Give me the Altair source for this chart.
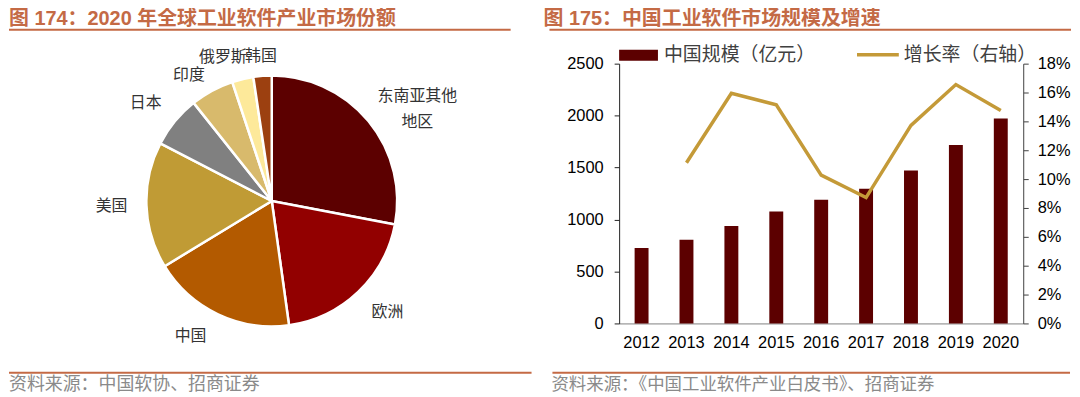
import altair as alt
import pandas as pd

# ---------------- data ----------------
regions = ["东南亚其他地区", "欧洲", "中国", "美国", "日本", "印度", "俄罗斯", "韩国"]
region_labels = ["东南亚其他\n地区", "欧洲", "中国", "美国", "日本", "印度", "俄罗斯", "韩国"]
shares = [28.0, 19.8, 18.5, 16.3, 6.7, 5.6, 2.75, 2.35]
pie_colors = ["#5C0000", "#920000", "#B35A00", "#C09B35", "#808080", "#D8BA6C", "#FDE99A", "#9C4010"]

years = ["2012", "2013", "2014", "2015", "2016", "2017", "2018", "2019", "2020"]
market_size = [726, 806, 938, 1078, 1190, 1296, 1472, 1718, 1971]
growth_rate = [None, 0.1113, 0.1595, 0.1515, 0.1028, 0.0872, 0.1372, 0.1655, 0.1476]

left_title = "图 174：2020 年全球工业软件产业市场份额"
right_title = "图 175：中国工业软件市场规模及增速"
left_source = "资料来源：中国软协、招商证券"
right_source = "资料来源：《中国工业软件产业白皮书》、招商证券"
legend_bar = "中国规模（亿元）"
legend_line = "增长率（右轴）"

# label nudges (style only)
label_nudge = {
    "东南亚其他地区": (23, -3), "欧洲": (6, -4), "中国": (-13, -9), "美国": (-1, 0),
    "日本": (-3, 3), "印度": (-7, 14), "俄罗斯": (-12, 11), "韩国": (1, 14),
}

TITLE_COLOR = "#C46A45"
CJK = "Noto Sans CJK SC"
MIX = "Liberation Sans, Noto Sans CJK SC"

# ---------------- pie panel ----------------
pie_df = pd.DataFrame({"region": regions, "label": region_labels, "share": shares,
                       "idx": list(range(len(regions)))})
pie_df["mid"] = pie_df["share"].cumsum() - pie_df["share"] / 2

CX, CY = 264, 138
theta_scale = alt.Scale(domain=[0, 100])

arcs = alt.Chart(pie_df).mark_arc(outerRadius=126, stroke="white", strokeWidth=2.5).encode(
    theta=alt.Theta("share:Q", stack=True, scale=theta_scale),
    color=alt.Color("region:N", scale=alt.Scale(domain=regions, range=pie_colors), legend=None),
    order=alt.Order("idx:Q"),
    x=alt.value(CX), y=alt.value(CY),
)

label_layers = []
for r in regions:
    dx, dy = label_nudge[r]
    label_layers.append(
        alt.Chart(pie_df).transform_filter(alt.datum.region == r).mark_text(
            radius=160, dx=dx, dy=dy, font=CJK, fontSize=16, color="#333333",
            lineBreak="\n", lineHeight=26, align="center", baseline="middle",
        ).encode(
            theta=alt.Theta("mid:Q", stack=None, scale=theta_scale),
            text="label:N",
            x=alt.value(CX), y=alt.value(CY),
        )
    )


def text_layer(txt, x, y, **kw):
    return alt.Chart(pd.DataFrame({"t": [txt]})).mark_text(
        align="left", baseline="middle", **kw
    ).encode(text="t:N", x=alt.value(x), y=alt.value(y))


def rule_layer(x1, x2, y, color, width):
    return alt.Chart(pd.DataFrame({"t": [0]})).mark_rule(color=color, strokeWidth=width).encode(
        x=alt.value(x1), x2=alt.value(x2), y=alt.value(y)
    )


left_deco = [
    text_layer(left_title, 0, -45, font=MIX, fontSize=20, fontWeight="bold", color=TITLE_COLOR),
    rule_layer(0, 504, -34, TITLE_COLOR, 2),
    rule_layer(0, 525, 310.5, TITLE_COLOR, 2),
    text_layer(left_source, 0, 323, font=CJK, fontSize=18, color="#8a8a8a"),
]

panel1 = alt.layer(arcs, *label_layers, *left_deco).properties(width=540, height=261)

# ---------------- bar + line panel ----------------
bar_df = pd.DataFrame({"year": years, "size": market_size, "growth": growth_rate})

x_enc = alt.X("year:O", title=None,
              scale=alt.Scale(paddingInner=0.69, paddingOuter=0.345),
              axis=alt.Axis(labelAngle=0, ticks=False, domainColor="#808080",
                            labelFont="Liberation Sans", labelFontSize=16.5,
                            labelColor="#000000", labelPadding=11))

bars = alt.Chart(bar_df).mark_bar(color="#5C0000").encode(
    x=x_enc,
    y=alt.Y("size:Q", title=None, scale=alt.Scale(domain=[0, 2500], nice=False),
            axis=alt.Axis(values=[0, 500, 1000, 1500, 2000, 2500], format="d", grid=False,
                          labelFont="Liberation Sans", labelFontSize=16.5, labelColor="#000000",
                          domainColor="#222222", tickColor="#222222", tickSize=5, labelPadding=11)),
)

line = alt.Chart(bar_df).mark_line(color="#C49A38", strokeWidth=3.5).encode(
    x=alt.X("year:O"),
    y=alt.Y("growth:Q", title=None, scale=alt.Scale(domain=[0, 0.18], nice=False),
            axis=alt.Axis(orient="right", format=".0%",
                          values=[0, 0.02, 0.04, 0.06, 0.08, 0.10, 0.12, 0.14, 0.16, 0.18],
                          grid=False, labelFont="Liberation Sans", labelFontSize=16.5,
                          labelColor="#000000", domainColor="#404040", tickColor="#404040",
                          tickSize=5, labelPadding=9)),
)

legend_rect = alt.Chart(pd.DataFrame({"t": [0]})).mark_rect(color="#5C0000").encode(
    x=alt.value(0), x2=alt.value(39), y=alt.value(-14), y2=alt.value(-3)
)
legend_line_mark = rule_layer(239, 281, -9, "#C49A38", 3.5)

right_deco = [
    text_layer(right_title, -76, -45, font=MIX, fontSize=20, fontWeight="bold", color=TITLE_COLOR),
    rule_layer(-70, 454, -34, TITLE_COLOR, 2),
    legend_rect,
    text_layer(legend_bar, 45, -9, font=CJK, fontSize=19, color="#404040"),
    legend_line_mark,
    text_layer(legend_line, 286, -9, font=CJK, fontSize=19, color="#404040"),
    rule_layer(-67, 453, 310.5, TITLE_COLOR, 2),
    text_layer(right_source, -68, 323, font=CJK, fontSize=17.5, color="#8a8a8a"),
]

panel2 = alt.layer(bars, line, *right_deco).resolve_scale(y="independent").properties(
    width=406, height=261)

chart = alt.hconcat(panel1, panel2, spacing=73, bounds="flush", padding=0).configure_view(
    stroke=None)

chart.save("out.html", embed_options={"renderer": "svg", "actions": False})
